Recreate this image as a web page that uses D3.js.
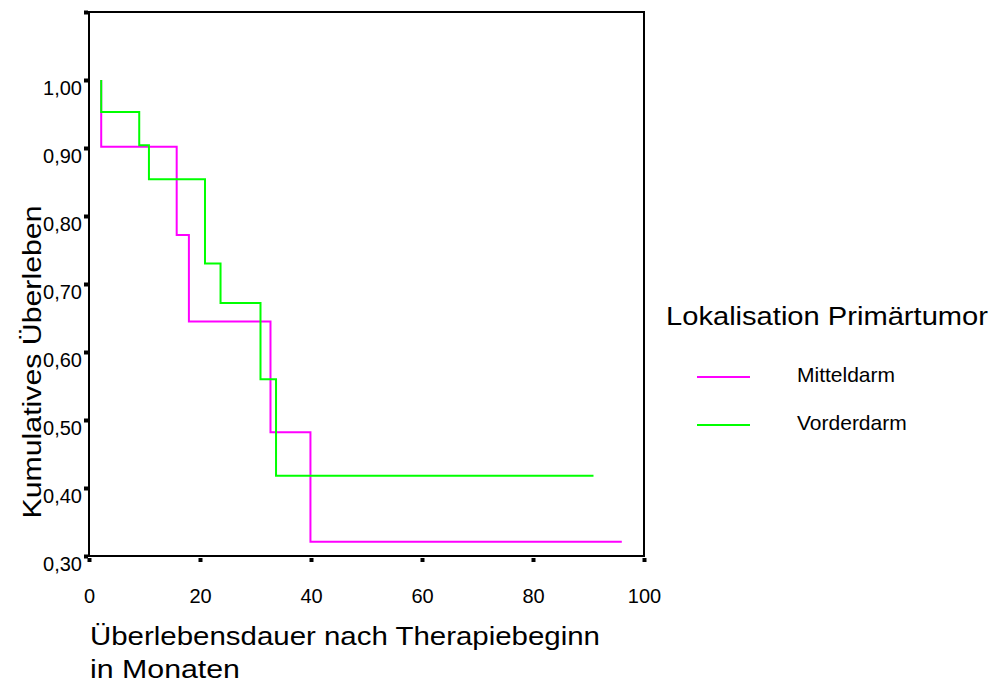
<!DOCTYPE html>
<html>
<head>
<meta charset="utf-8">
<script src="https://cdn.jsdelivr.net/npm/d3@7"></script>
<style>
  body { margin: 0; background: #fff; }
  svg { font-family: "Liberation Sans", Arial, sans-serif; }
</style>
</head>
<body>
<div id="chart"></div>
<script>
// Kaplan-Meier steps
const mitteTimes = [2.2, 2.2, 15.8, 18.0, 32.7, 39.9, 96.0]
const mitteSurv  = [1.0, 0.902, 0.772, 0.645, 0.482, 0.321, 0.321]
const vorderTimes = [2.2, 2.2, 9.05, 10.8, 20.9, 23.7, 30.9, 33.7, 90.9]
const vorderSurv  = [1.0, 0.953, 0.904, 0.854, 0.730, 0.672, 0.560, 0.418, 0.418]

const groups = ['Mitteldarm', 'Vorderdarm']
const xTicks = [0, 20, 40, 60, 80, 100]
const yTicks = [0.3, 0.4, 0.5, 0.6, 0.7, 0.8, 0.9, 1.0, 1.1]

window.onload = setup

function setup () {
    const svg = d3.select('#chart').append('svg')
        .attr('width', 994)
        .attr('height', 684)

    const x = d3.scaleLinear().domain([0, 100]).range([89, 644])
    const y = d3.scaleLinear().domain([0.3, 1.1]).range([556, 12])
    const color = d3.scaleOrdinal().domain(groups).range(['#ff00ff', '#00ff00'])

    // frame
    svg.append('rect')
        .attr('x', x(0)).attr('y', y(1.1))
        .attr('width', x(100) - x(0)).attr('height', y(0.3) - y(1.1))
        .attr('fill', 'none').attr('stroke', '#000').attr('stroke-width', 2)

    const comma = d => d3.format('.2f')(d).replace('.', ',')

    // y axis: square ticks, labels except the top one
    const yAxis = svg.append('g')
        .attr('transform', `translate(${x(0) - 1},0)`)
        .call(d3.axisLeft(y).tickValues(yTicks).tickSize(4).tickPadding(2)
            .tickFormat(d => d > 1.05 ? '' : comma(d)))
    yAxis.select('.domain').remove()
    yAxis.selectAll('.tick line').attr('stroke-width', 4).attr('stroke', '#000')
    yAxis.selectAll('.tick text')
        .attr('dy', '0.7em').attr('font-size', 20).attr('fill', '#000')
        .attr('font-family', '"Liberation Sans", Arial, sans-serif')

    // x axis
    const xAxis = svg.append('g')
        .attr('transform', `translate(0,${y(0.3) + 2})`)
        .call(d3.axisBottom(x).tickValues(xTicks).tickSize(4).tickPadding(27))
    xAxis.select('.domain').remove()
    xAxis.selectAll('.tick line').attr('stroke-width', 4).attr('stroke', '#000')
    xAxis.selectAll('.tick text')
        .attr('font-size', 20).attr('fill', '#000')
        .attr('font-family', '"Liberation Sans", Arial, sans-serif')

    // survival curves
    const series = [
        {name: 'Mitteldarm', pts: d3.zip(mitteTimes, mitteSurv)},
        {name: 'Vorderdarm', pts: d3.zip(vorderTimes, vorderSurv)}
    ]
    const line = d3.line()
        .x(d => x(d[0]))
        .y(d => y(d[1]))
        .curve(d3.curveStepAfter)

    svg.selectAll('path.km')
        .data(series)
        .join('path')
        .attr('class', 'km')
        .attr('d', d => line(d.pts))
        .attr('fill', 'none')
        .attr('stroke', d => color(d.name))
        .attr('stroke-width', 2)

    // axis titles (the original font runs wide, so stretch to its width)
    svg.append('text')
        .attr('transform', 'translate(41,362) rotate(-90)')
        .attr('text-anchor', 'middle')
        .attr('font-size', 26)
        .attr('textLength', 313).attr('lengthAdjust', 'spacingAndGlyphs')
        .text('Kumulatives Überleben')

    svg.append('text')
        .attr('x', 90).attr('y', 645)
        .attr('font-size', 26)
        .attr('textLength', 510).attr('lengthAdjust', 'spacingAndGlyphs')
        .text('Überlebensdauer nach Therapiebeginn')
    svg.append('text')
        .attr('x', 90).attr('y', 678)
        .attr('font-size', 26)
        .attr('textLength', 150).attr('lengthAdjust', 'spacingAndGlyphs')
        .text('in Monaten')

    // legend
    const legend = svg.append('g')
    legend.append('text')
        .attr('x', 666).attr('y', 325)
        .attr('font-size', 26)
        .attr('textLength', 322).attr('lengthAdjust', 'spacingAndGlyphs')
        .text('Lokalisation Primärtumor')

    const item = legend.selectAll('g.item')
        .data(groups)
        .join('g')
        .attr('class', 'item')
        .attr('transform', (d, i) => `translate(0,${377 + i * 48})`)
    item.append('line')
        .attr('x1', 697).attr('x2', 750)
        .attr('stroke', d => color(d))
        .attr('stroke-width', 2)
    item.append('text')
        .attr('x', 797).attr('y', 4.5)
        .attr('font-size', 21)
        .text(d => d)
}
</script>
</body>
</html>
